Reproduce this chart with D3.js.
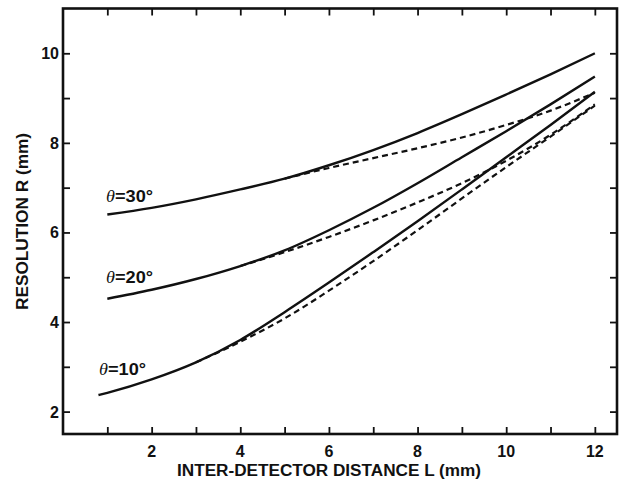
<!DOCTYPE html>
<meta charset="utf-8">
<script src="https://d3js.org/d3.v7.min.js"></script>
<style>
  body { margin: 0; background: #fff; }
  text { font-family: "Liberation Sans", Arial, sans-serif; fill: #111; }
</style>
<div id="chart"></div>
<script>
// values
var L12 = [1, 2, 3, 4, 5, 6, 7, 8, 9, 10, 11, 12];
var solid30 = [6.40, 6.55, 6.74, 6.96, 7.20, 7.50, 7.84, 8.22, 8.64, 9.08, 9.53, 10.0];
var solid20 = [4.52, 4.72, 4.96, 5.25, 5.60, 6.05, 6.55, 7.10, 7.68, 8.26, 8.86, 9.48];
var L10 = [0.8, 1, 2, 3, 4, 5, 6, 7, 8, 9, 10, 11, 12];
var solid10 = [2.37, 2.42, 2.72, 3.10, 3.60, 4.22, 4.88, 5.56, 6.25, 6.96, 7.68, 8.40, 9.14];

var Ld30 = [5, 6, 7, 8, 9, 10, 11, 12];
var dashed30 = [7.20, 7.44, 7.66, 7.88, 8.12, 8.40, 8.72, 9.12];
var Ld20 = [4, 5, 6, 7, 8, 9, 10, 11, 12];
var dashed20 = [5.25, 5.56, 5.90, 6.27, 6.67, 7.10, 7.60, 8.18, 8.86];
var Ld10 = [3, 4, 5, 6, 7, 8, 9, 10, 11, 12];
var dashed10 = [3.10, 3.56, 4.08, 4.70, 5.36, 6.05, 6.76, 7.46, 8.14, 8.83];

var xTicks = [1, 2, 3, 4, 5, 6, 7, 8, 9, 10, 11, 12];
var yTicks = [2, 3, 4, 5, 6, 7, 8, 9, 10];
var angles = ["30", "20", "10"];

var W = 621, H = 483;
var mLeft = 63, mRight = 617, mTop = 8.5, mBottom = 434;

var svg = d3.select("#chart").append("svg")
  .attr("width", W).attr("height", H);

var x = d3.scaleLinear().domain([0, 12.5]).range([mLeft, mRight]);
var y = d3.scaleLinear().domain([1.5, 11]).range([mBottom, mTop]);

// axes, ticks pointing inward on all four sides
var tl = 7;
svg.append("g").attr("transform", "translate(0," + mBottom + ")")
  .call(d3.axisTop(x).tickValues(xTicks).tickSize(tl).tickFormat(""));
svg.append("g").attr("transform", "translate(0," + mTop + ")")
  .call(d3.axisBottom(x).tickValues(xTicks).tickSize(tl).tickFormat(""));
svg.append("g").attr("transform", "translate(" + mLeft + ",0)")
  .call(d3.axisRight(y).tickValues(yTicks).tickSize(tl).tickFormat(""));
svg.append("g").attr("transform", "translate(" + mRight + ",0)")
  .call(d3.axisLeft(y).tickValues(yTicks).tickSize(tl).tickFormat(""));
svg.selectAll(".domain").remove();
svg.selectAll(".tick line").attr("stroke", "#111").attr("stroke-width", 1.8);

svg.append("rect")
  .attr("x", mLeft).attr("y", mTop)
  .attr("width", mRight - mLeft).attr("height", mBottom - mTop)
  .attr("fill", "none").attr("stroke", "#111").attr("stroke-width", 2.6);

// tick labels
svg.selectAll(".xl").data(xTicks.filter(function(d){ return d % 2 == 0; }))
  .enter().append("text")
  .attr("x", function(d){ return x(d); })
  .attr("y", 457)
  .attr("text-anchor", "middle")
  .attr("font-size", "16px").attr("font-weight", "bold")
  .text(function(d){ return d; });

svg.selectAll(".yl").data(yTicks.filter(function(d){ return d % 2 == 0; }))
  .enter().append("text")
  .attr("x", 59)
  .attr("y", function(d){ return y(d) + 6; })
  .attr("text-anchor", "end")
  .attr("font-size", "16px").attr("font-weight", "bold")
  .text(function(d){ return d; });

// axis titles
svg.append("text")
  .attr("x", 177).attr("y", 476)
  .attr("font-size", "16px").attr("font-weight", "bold")
  .attr("textLength", 304).attr("lengthAdjust", "spacingAndGlyphs")
  .text("INTER-DETECTOR DISTANCE L (mm)");

svg.append("text")
  .attr("transform", "translate(28,310) rotate(-90)")
  .attr("font-size", "16px").attr("font-weight", "bold")
  .attr("textLength", 177).attr("lengthAdjust", "spacingAndGlyphs")
  .text("RESOLUTION R (mm)");

// curves
var line = d3.line()
  .x(function(d){ return x(d[0]); })
  .y(function(d){ return y(d[1]); })
  .curve(d3.curveMonotoneX);

function draw(xs, ys, dashed) {
  svg.append("path")
    .datum(d3.zip(xs, ys))
    .attr("d", line)
    .attr("fill", "none")
    .attr("stroke", "#111")
    .attr("stroke-width", dashed ? 2.2 : 2.4)
    .attr("stroke-dasharray", dashed ? "6,4" : null);
}

draw(Ld30, dashed30, true);
draw(Ld20, dashed20, true);
draw(Ld10, dashed10, true);
draw(L12, solid30, false);
draw(L12, solid20, false);
draw(L10, solid10, false);

// curve labels
var lx = [106, 106, 99];
var ly = [202, 283, 375];
angles.forEach(function(a, i) {
  var t = svg.append("text")
    .attr("x", lx[i]).attr("y", ly[i])
    .attr("font-size", "17px")
    .attr("textLength", 47).attr("lengthAdjust", "spacingAndGlyphs");
  t.append("tspan")
    .attr("font-family", "'Liberation Serif', serif")
    .attr("font-style", "italic")
    .text("\u03b8");
  t.append("tspan")
    .attr("font-weight", "bold")
    .text("=" + a + "\u00b0");
});
</script>
